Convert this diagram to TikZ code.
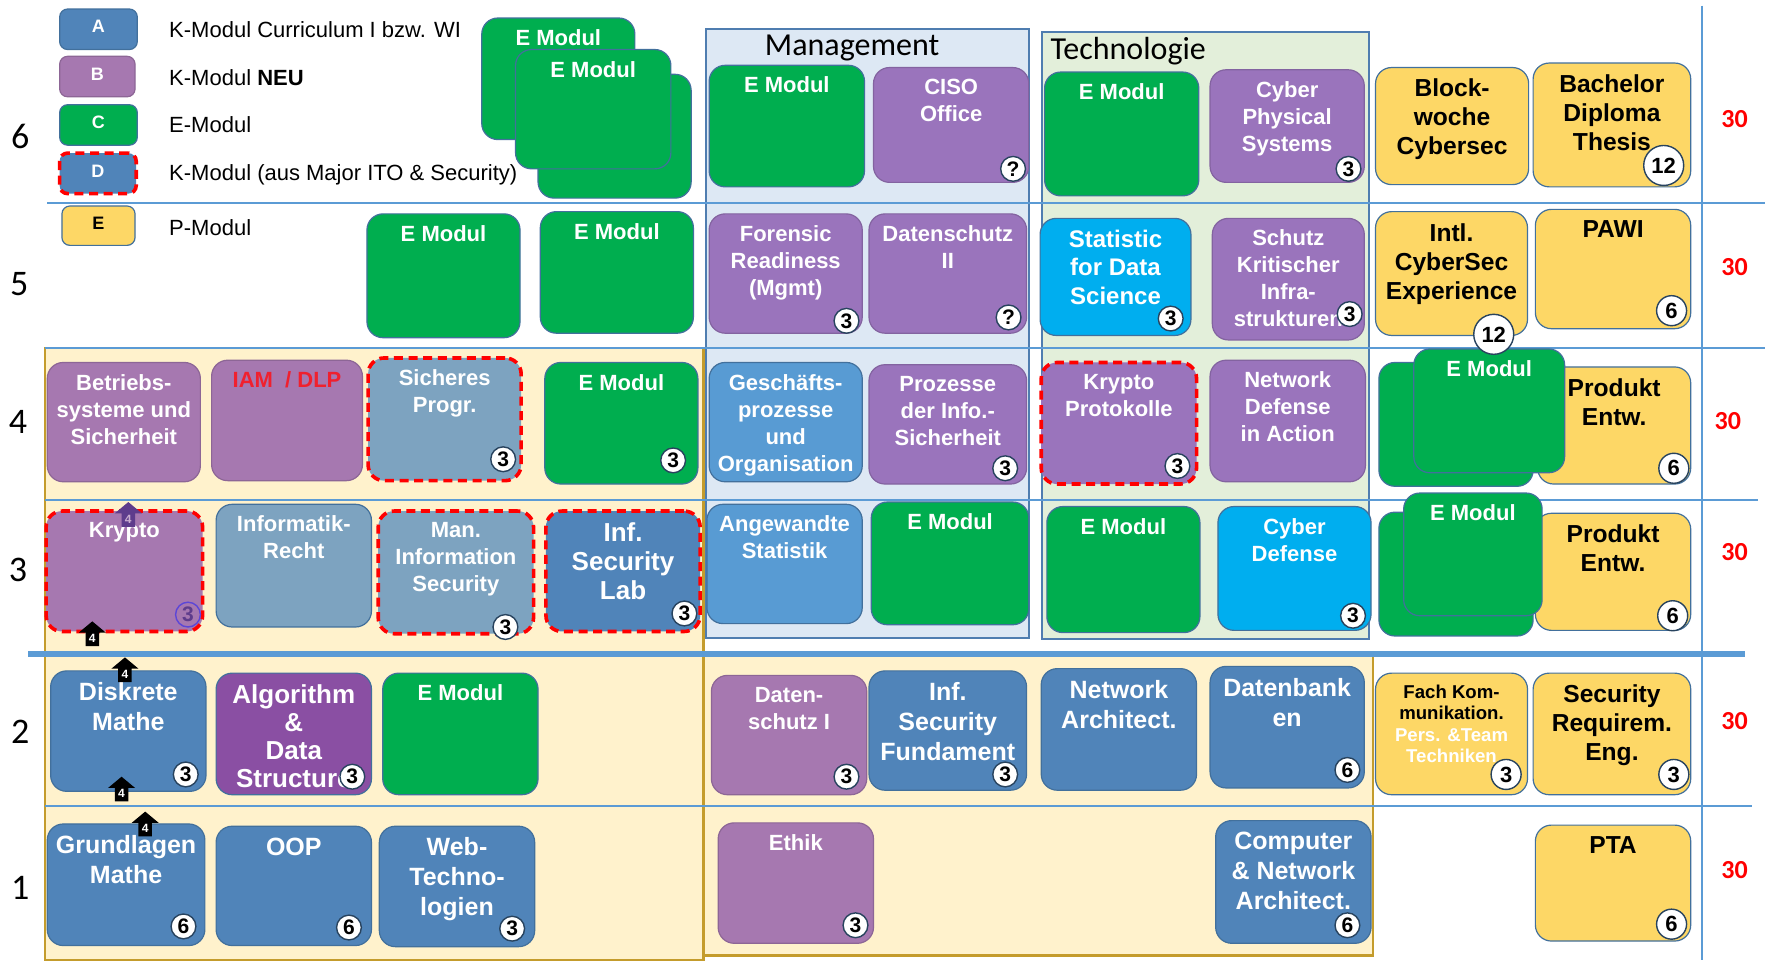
\documentclass[tikz,border=0pt]{standalone}
\usepackage{fontspec}
\setmainfont{Liberation Sans}
\newfontfamily\calfont{Carlito}
\definecolor{kblue}{HTML}{5084B9}
\definecolor{kgray}{HTML}{7DA3C0}
\definecolor{mblue}{HTML}{589BD3}
\definecolor{purpM}{HTML}{9A74BC}
\definecolor{purpK}{HTML}{A678B0}
\definecolor{purpA}{HTML}{8A4FA3}
\definecolor{egreen}{HTML}{00AE4F}
\definecolor{ecyan}{HTML}{00AEEF}
\definecolor{pyellow}{HTML}{FDD766}
\definecolor{mgmtbg}{HTML}{DDE8F4}
\definecolor{techbg}{HTML}{E3EFDA}
\definecolor{beige}{HTML}{FFF2CC}
\definecolor{gold}{HTML}{C49C2C}
\definecolor{gridblue}{HTML}{5B9BD5}
\definecolor{regbord}{HTML}{4F7DB0}
\definecolor{bordercol}{HTML}{42709C}
\definecolor{redd}{HTML}{FF0000}
\definecolor{iamred}{HTML}{F0202E}
\definecolor{arrpurp}{HTML}{5E3C8C}

\newcommand{\modul}[8]{%
  \node[#2, minimum width={(#5-#3)*0.5628pt}, minimum height={(#6-#4)*0.5628pt}] (#1) at ({(#3+#5)/2},{(#4+#6)/2}) {};
  \node[#7, anchor=north] (#1t) at ([yshift=-5.6pt]#1.north) {#8};}
\newcommand{\plainmodul}[6]{%
  \node[#2, minimum width={(#5-#3)*0.5628pt}, minimum height={(#6-#4)*0.5628pt}] (#1) at ({(#3+#5)/2},{(#4+#6)/2}) {};}
\newcommand{\badge}[5]{\node[#1] (#2) at (#3,#4) {#5};}
\newcommand{\blockarrow}[5]{%
  \fill[#4] (#2,#3) -- ++(12,10) -- ++(-6,0) -- ++(0,12) -- ++(-12,0) -- ++(0,-12) -- ++(-6,0) -- cycle;
  \node[text=#5, font=\bfseries\fontsize{6}{6}\selectfont, inner sep=0] (#1) at (#2,#3+15) {4};}

\begin{document}
\begin{tikzpicture}[x=0.5628pt,y=-0.5628pt,
  box/.style={rounded corners=8pt, draw=bordercol, line width=0.6pt, inner sep=0, outer sep=0},
  kb/.style={box, fill=kblue},
  kg/.style={box, fill=kgray},
  mb/.style={box, fill=mblue},
  pm/.style={box, fill=purpM, draw=purpM!85!black},
  pk/.style={box, fill=purpK, draw=purpK!85!black},
  pa/.style={box, fill=purpA},
  gr/.style={box, fill=egreen},
  cy/.style={box, fill=ecyan},
  ye/.style={box, fill=pyellow},
  lg/.style={rounded corners=4pt},
  rd/.style={draw=redd, line width=1.8pt, dash pattern=on 4.5pt off 2.8pt},
  ws/.style={text=white, font=\bfseries\fontsize{11}{13.5}\selectfont, inner sep=0, align=center},
  wl/.style={text=white, font=\bfseries\fontsize{12.5}{15}\selectfont, inner sep=0, align=center},
  yt/.style={text=black, font=\bfseries\fontsize{12.3}{14.5}\selectfont, inner sep=0, align=center},
  lt/.style={text=white, font=\bfseries\fontsize{9}{9}\selectfont, inner sep=0},
  legt/.style={font=\fontsize{11}{11}\selectfont, inner sep=0, anchor=west},
  bd/.style={circle, draw=bordercol!60!black, fill=white, line width=0.7pt, inner sep=0, minimum size=12.4pt, font=\bfseries\fontsize{10.5}{10.5}\selectfont},
  bdm/.style={bd, minimum size=15pt, font=\bfseries\fontsize{11}{11}\selectfont},
  bdl/.style={bd, minimum size=20pt, font=\bfseries\fontsize{11}{11}\selectfont},
  bdk/.style={bd, fill=purpK, draw=purpM!60!blue, text=arrpurp},
  gline/.style={draw=gridblue, line width=1.1pt},
  rown/.style={font=\calfont\fontsize{18}{18}\selectfont, inner sep=0},
  cred/.style={font=\calfont\bfseries\fontsize{13}{13}\selectfont, text=redd, inner sep=0},
  title/.style={font=\calfont\fontsize{16}{16}\selectfont, inner sep=0}
]
\useasboundingbox (0,0) rectangle (1568,853);
\fill[white] (0,0) rectangle (1568,853);

% background regions
\draw[gold, fill=beige, line width=1.2pt] (40,309) rectangle (625,853);
\draw[gold, fill=beige, line width=1.2pt] (625,581) rectangle (1220,849);
\draw[regbord, fill=mgmtbg, line width=1pt] (627,26) rectangle (914,567);
\draw[regbord, fill=techbg, line width=1pt] (926,28) rectangle (1216,568);

% grid lines
\draw[gline] (42,180) -- (1568,180);
\draw[gline] (40,309) -- (1568,309);
\draw[gline] (40,444) -- (1562,444);
\draw[gridblue, line width=2.8pt] (25,581) -- (1550,581);
\draw[gline] (40,716) -- (1556,716);
\draw[gline] (1512,5) -- (1512,853);

% titles
\node[title] (mgmt) at (757,43) {Management};
\node[title, anchor=west] (tech) at (933,45) {Technologie};

% row numbers
\node[rown] (n6) at (18,121) {6};
\node[rown] (n5) at (17,252) {5};
\node[rown] (n4) at (16,375) {4};
\node[rown] (n3) at (16,506) {3};
\node[rown] (n2) at (18,650) {2};
\node[rown] (n1) at (18,789) {1};

% credits
\node[cred] (c6) at (1541,106) {30};
\node[cred] (c5) at (1541,237) {30};
\node[cred] (c4) at (1535,374) {30};
\node[cred] (c3) at (1541,490) {30};
\node[cred] (c2) at (1541,641) {30};
\node[cred] (c1) at (1541,773) {30};

% legend
\modul{lA}{kb,lg}{53}{8}{122}{44}{lt}{A}
\modul{lB}{pk,lg}{53}{50}{120}{86}{lt}{B}
\modul{lC}{gr,lg}{53}{93}{122}{129}{lt}{C}
\modul{lD}{kb,lg,rd}{53}{136}{121}{172}{lt}{D}
\modul{lE}{ye,lg}{55}{183}{120}{218}{lt,text=black}{E}
\node[legt] (lgA) at (150,26) {K-Modul Curriculum I bzw. WI};
\node[legt] (lgB) at (150,69) {K-Modul \textbf{NEU}};
\node[legt] (lgC) at (150,111) {E-Modul};
\node[legt] (lgD) at (150,155) {K-Modul (aus Major ITO \& Security)};
\node[legt] (lgE) at (150,202) {P-Modul};

% top-left green stack
\modul{g6a}{gr}{428}{16}{564}{124}{ws}{E Modul}
\plainmodul{g6c}{gr}{478}{66}{614}{176}
\modul{g6b}{gr}{458}{44}{596}{150}{ws}{E Modul}
\modul{g5a}{gr}{326}{190}{462}{300}{ws}{E Modul}
\modul{g5b}{gr}{480}{188}{616}{296}{ws}{E Modul}

% Management
\modul{m6a}{gr}{630}{58}{768}{166}{ws}{E Modul}
\modul{m6b}{pm}{776}{60}{914}{162}{ws}{CISO\\Office}
\modul{m5a}{pm}{630}{190}{766}{296}{ws}{Forensic\\Readiness\\(Mgmt)}
\modul{m5b}{pm}{772}{190}{912}{296}{ws}{Datenschutz\\II}
\modul{m4a}{mb}{630}{322}{766}{428}{ws}{Geschäfts-\\prozesse\\und\\Organisation}
\modul{m4b}{pm}{772}{324}{912}{430}{ws}{Prozesse\\der Info.-\\Sicherheit}
\modul{m3a}{mb}{628}{448}{766}{554}{ws}{Angewandte\\Statistik}
\modul{m3b}{gr}{774}{446}{914}{555}{ws}{E Modul}

% Technologie
\modul{t6a}{gr}{928}{64}{1065}{174}{ws}{E Modul}
\modul{t6b}{pm}{1075}{62}{1212}{162}{ws}{Cyber\\Physical\\Systems}
\modul{t5a}{cy}{924}{194}{1058}{298}{wl,font=\bfseries\fontsize{12}{14.2}\selectfont}{Statistic\\for Data\\Science}
\modul{t5b}{pm}{1077}{194}{1212}{302}{ws}{Schutz\\Kritischer\\Infra-\\strukturen}
\modul{t4a}{pm,rd}{925}{322}{1063}{430}{ws}{Krypto\\Protokolle}
\modul{t4b}{pm}{1075}{320}{1213}{428}{ws}{Network\\Defense\\in Action}
\modul{t3a}{gr}{930}{450}{1066}{562}{ws}{E Modul}
\modul{t3b}{cy}{1082}{450}{1218}{560}{ws}{Cyber\\Defense}

% right columns
\modul{r6a}{ye}{1222}{60}{1358}{164}{yt}{Block-\\woche\\Cybersec}
\modul{r6b}{ye}{1362}{56}{1502}{166}{yt}{Bachelor\\Diploma\\Thesis}
\modul{r5a}{ye}{1222}{188}{1357}{298}{yt}{Intl.\\CyberSec\\Experience}
\modul{r5b}{ye}{1364}{186}{1502}{292}{yt}{PAWI}
\modul{r4y}{ye}{1366}{326}{1502}{430}{yt}{Produkt\\Entw.}
\plainmodul{r4g1}{gr}{1225}{322}{1362}{432}
\modul{r4g2}{gr}{1256}{310}{1390}{420}{ws}{E Modul}
\modul{r3y}{ye}{1364}{456}{1502}{560}{yt}{Produkt\\Entw.}
\plainmodul{r3g1}{gr}{1225}{455}{1362}{565}
\modul{r3g2}{gr}{1247}{438}{1370}{547}{ws}{E Modul}
\modul{r2a}{ye}{1222}{598}{1357}{706}{yt,font=\bfseries\fontsize{9.3}{10.7}\selectfont}{Fach Kom-\\munikation.\\{\color{white}Pers. \&Team}\\{\color{white}Techniken}}
\modul{r2b}{ye}{1362}{598}{1502}{706}{yt}{Security\\Requirem.\\Eng.}
\modul{r1}{ye}{1364}{733}{1502}{836}{yt}{PTA}

% left rows 4 and 3
\modul{l4a}{pk}{42}{322}{178}{428}{ws}{Betriebs-\\systeme und\\Sicherheit}
\modul{l4b}{pk}{188}{320}{322}{427}{ws,text=iamred}{IAM\ \ / DLP}
\modul{l4c}{kg,rd}{327}{318}{463}{427}{ws}{Sicheres\\Progr.}
\modul{l4d}{gr}{484}{322}{620}{430}{ws}{E Modul}
\modul{l3a}{pk,rd}{41}{454}{180}{561}{ws}{Krypto}
\modul{l3b}{kg}{192}{448}{330}{557}{ws}{Informatik-\\Recht}
\modul{l3c}{kg,rd}{336}{454}{474}{563}{ws}{Man.\\Information\\Security}
\modul{l3d}{kb,rd}{485}{454}{622}{561}{wl,font=\bfseries\fontsize{13}{14.6}\selectfont}{Inf.\\Security\\Lab}

% left rows 2 and 1
\modul{l2a}{kb}{45}{596}{183}{703}{wl}{Diskrete\\Mathe}
\modul{l2b}{pa}{192}{598}{330}{706}{wl,font=\bfseries\fontsize{13}{14}\selectfont}{Algorithm\\\&\\Data\\Structure}
\modul{l2c}{gr}{340}{598}{478}{706}{ws}{E Modul}
\modul{l1a}{kb}{42}{732}{182}{840}{wl}{Grundlagen\\Mathe}
\modul{l1b}{kb}{192}{734}{330}{840}{wl}{OOP}
\modul{l1c}{kb}{337}{734}{475}{841}{wl}{Web-\\Techno-\\logien}

% middle rows 2 and 1
\modul{c2a}{pk}{632}{600}{770}{706}{ws}{Daten-\\schutz I}
\modul{c2b}{kb}{772}{596}{912}{702}{wl}{Inf.\\Security\\Fundament}
\modul{c2c}{kb}{925}{594}{1063}{702}{wl}{Network\\Architect.}
\modul{c2d}{kb}{1075}{592}{1212}{700}{wl}{Datenbank\\en}
\modul{c1a}{pk}{638}{731}{776}{838}{ws}{Ethik}
\modul{c1b}{kb}{1080}{729}{1218}{838}{wl}{Computer\\\& Network\\Architect.}

% badges
\badge{bd}{bm6b}{900}{150}{?}
\badge{bd}{bm5a}{752}{285}{3}
\badge{bd}{bm5b}{896}{282}{?}
\badge{bd}{bt6b}{1198}{150}{3}
\badge{bd}{bt5a}{1040}{283}{3}
\badge{bd}{bt5b}{1199}{279}{3}
\badge{bdl}{br6b}{1478}{147}{12}
\badge{bdl}{br5a}{1327}{297}{12}
\badge{bdm}{br5b}{1485}{276}{6}
\badge{bd}{bl4c}{447}{408}{3}
\badge{bd}{bl4d}{598}{409}{3}
\badge{bd}{bm4b}{893}{416}{3}
\badge{bd}{bt4a}{1046}{414}{3}
\badge{bdm}{br4y}{1487}{416}{6}
\badge{bdk}{bl3a}{167}{546}{3}
\badge{bd}{bl3c}{449}{557}{3}
\badge{bd}{bl3d}{608}{545}{3}
\badge{bd}{bt3b}{1202}{547}{3}
\badge{bdm}{br3y}{1486}{547}{6}
\badge{bd}{bl2a}{165}{688}{3}
\badge{bd}{bl2b}{313}{690}{3}
\badge{bd}{bc2a}{752}{690}{3}
\badge{bd}{bc2b}{893}{688}{3}
\badge{bd}{bc2d}{1197}{684}{6}
\badge{bdm}{br2a}{1338}{688}{3}
\badge{bdm}{br2b}{1487}{688}{3}
\badge{bd}{bl1a}{163}{823}{6}
\badge{bd}{bl1b}{310}{824}{6}
\badge{bd}{bl1c}{455}{825}{3}
\badge{bd}{bc1a}{760}{822}{3}
\badge{bd}{bc1b}{1197}{822}{6}
\badge{bdm}{br1}{1485}{821}{6}

% small up arrows
\blockarrow{a1}{114}{446}{arrpurp}{purpK!60!white}
\blockarrow{a2}{82}{552}{black}{white}
\blockarrow{a3}{111}{584}{black}{white}
\blockarrow{a4}{108}{690}{black}{white}
\blockarrow{a5}{129}{721}{black}{white}
\end{tikzpicture}
\end{document}
